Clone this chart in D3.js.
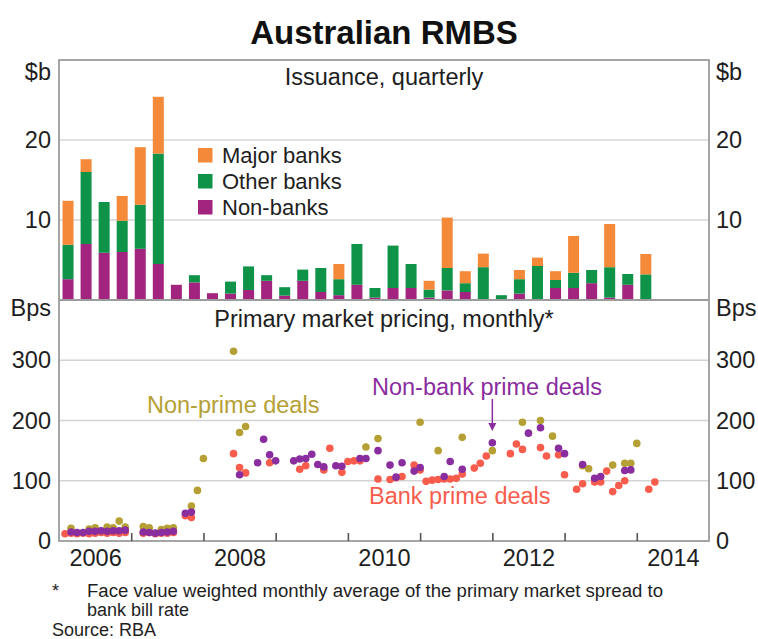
<!DOCTYPE html>
<html><head><meta charset="utf-8">
<script src="https://cdn.jsdelivr.net/npm/d3@7/dist/d3.min.js"></script>
<style>
body{margin:0;background:#fff}
svg{display:block}
text{font-family:"Liberation Sans",Arial,Helvetica,sans-serif;fill:#1e1e1e}
</style>
</head><body>
<svg id="chart" width="758" height="639"></svg>
<script>
// ---------- DATA ----------
const quarterLabels = [
  "2006-Q1","2006-Q2","2006-Q3","2006-Q4","2007-Q1","2007-Q2","2007-Q3","2007-Q4",
  "2008-Q1","2008-Q2","2008-Q3","2008-Q4","2009-Q1","2009-Q2","2009-Q3","2009-Q4",
  "2010-Q1","2010-Q2","2010-Q3","2010-Q4","2011-Q1","2011-Q2","2011-Q3","2011-Q4",
  "2012-Q1","2012-Q2","2012-Q3","2012-Q4","2013-Q1","2013-Q2","2013-Q3","2013-Q4","2014-Q1"];
// Issuance, $b
const nonBanks   = [2.6,7.0,5.9,6.0,6.4,4.5,1.9,2.2,0.85,0.8,1.25,2.4,0.55,2.4,1.0,0.6,1.9,0.3,1.5,1.5,0.3,1.2,1.0,0.1,0,0.8,0.1,1.5,1.5,2.1,0.3,1.9,0];
const otherBanks = [4.3,9.0,6.35,3.9,5.5,13.8,0,0.9,0,1.5,2.95,0.7,1.05,1.4,3.0,2.0,5.1,1.2,5.3,3.0,1.0,2.8,1.1,4.0,0.6,1.8,4.15,1.0,1.9,1.65,3.8,1.35,3.2];
const majorBanks = [5.5,1.6,0,3.1,7.2,7.1,0,0,0,0,0,0,0,0,0,1.9,0,0,0,0,1.1,6.3,1.5,1.7,0,1.15,1.05,1.1,4.6,0,5.4,0,2.55];
const seriesNames = ["Major banks","Other banks","Non-banks"];

// Primary market pricing, bps (monthly, [month, value])
const nonPrimeDeals = [
  ["2006-02",21],["2006-05",20],["2006-06",22],["2006-08",23],["2006-09",22],["2006-10",33],["2006-11",23],
  ["2007-02",24],["2007-03",22],["2007-05",19],["2007-06",21],["2007-07",22],["2007-10",58],["2007-11",84],["2007-12",137],
  ["2008-05",315],["2008-06",180],["2008-07",190],["2010-03",156],["2010-05",170],["2010-12",197],
  ["2011-03",150],["2011-07",172],["2011-12",150],["2012-05",197],["2012-08",200],["2012-10",174],
  ["2013-03",125],["2013-04",120],["2013-08",126],["2013-10",129],["2013-11",129],["2013-12",162]];
const nonBankPrimeDeals = [
  ["2006-02",15],["2006-03",14],["2006-04",14],["2006-05",16],["2006-06",16],["2006-07",17],["2006-08",16],["2006-09",17],["2006-10",17],["2006-11",18],
  ["2007-02",15],["2007-03",14],["2007-04",13],["2007-05",14],["2007-06",15],["2007-07",16],["2007-09",46],["2007-10",48],
  ["2008-06",110],["2008-09",130],["2008-10",169],["2008-11",143],["2008-12",133],
  ["2009-03",133],["2009-04",136],["2009-05",137],["2009-06",144],["2009-07",127],["2009-08",123],["2009-10",125],["2009-11",124],
  ["2010-02",137],["2010-03",137],["2010-05",150],["2010-07",126],["2010-08",106],["2010-09",130],["2010-11",116],["2010-12",122],
  ["2011-04",107],["2011-05",132],["2011-07",119],["2011-12",163],
  ["2012-06",179],["2012-08",188],["2012-11",154],["2012-12",145],
  ["2013-03",127],["2013-05",104],["2013-06",107],["2013-10",117],["2013-11",118]];
const bankPrimeDeals = [
  ["2006-01",12],["2006-02",13],["2006-03",12],["2006-04",13],["2006-05",12],["2006-06",13],["2006-07",14],["2006-08",13],["2006-09",14],["2006-10",13],["2006-11",14],
  ["2007-02",13],["2007-03",14],["2007-04",12],["2007-05",13],["2007-06",13],["2007-07",14],["2007-09",42],["2007-10",39],
  ["2008-05",145],["2008-06",122],["2008-07",113],["2008-11",130],
  ["2009-04",119],["2009-05",125],["2009-08",118],["2009-09",154],["2009-11",114],["2009-12",132],
  ["2010-01",133],["2010-02",133],["2010-05",103],["2010-07",102],["2010-08",105],["2010-09",107],["2010-11",126],["2010-12",118],
  ["2011-01",99],["2011-02",101],["2011-03",102],["2011-04",103],["2011-05",103],["2011-06",104],["2011-07",111],["2011-09",121],["2011-10",129],["2011-11",141],
  ["2012-03",145],["2012-04",161],["2012-05",152],["2012-08",155],["2012-09",141],["2012-11",143],["2012-12",110],
  ["2013-02",86],["2013-03",95],["2013-05",98],["2013-06",98],["2013-07",116],["2013-08",82],["2013-09",92],["2013-10",100],
  ["2014-02",86],["2014-03",98]];

const topTicks = [10,20];
const bottomTicks = [0,100,200,300];
const yearTicks = [2007,2008,2009,2010,2011,2012,2013,2014];
const yearLabels = [2006,2008,2010,2012,2014];

// ---------- LAYOUT / STYLE ----------
const L = 59, R = 709, T = 60, MID = 300, B = 541;
const colors = {"Major banks":"#F5893A","Other banks":"#0E9348","Non-banks":"#A3247E"};
const dotColors = {nonPrime:"#B5A035", nonBank:"#8A2D9E", bank:"#F75C4C"};
const FS = 23.5;

const svg = d3.select("#chart");

const x = d3.scaleLinear().domain([2006, 2015]).range([L, R]);
const yTop = d3.scaleLinear().domain([0, 30]).range([MID, T]);
const yBot = d3.scaleLinear().domain([0, 400]).range([B, MID]);

const qPos = q => { const [yy, qq] = q.split("-Q"); return +yy + (+qq - 0.5) / 4; };
const mPos = m => { const [yy, mm] = m.split("-"); return +yy + (+mm) / 12; };

// title
svg.append("text").attr("x", 384).attr("y", 44).attr("text-anchor", "middle")
  .style("font-size", "33px").style("font-weight", "bold").style("fill", "#111").text("Australian RMBS");

// gridlines
const grid = svg.append("g").attr("stroke", "#d4d4d4").attr("stroke-width", 1.6);
topTicks.forEach(v => grid.append("line").attr("x1", L).attr("x2", R).attr("y1", yTop(v)).attr("y2", yTop(v)));
bottomTicks.filter(v => v > 0).forEach(v => grid.append("line").attr("x1", L).attr("x2", R).attr("y1", yBot(v)).attr("y2", yBot(v)));

// stacked bars
const table = quarterLabels.map((q, i) => ({q, "Non-banks": nonBanks[i], "Other banks": otherBanks[i], "Major banks": majorBanks[i]}));
const stack = d3.stack().keys(["Non-banks", "Other banks", "Major banks"])(table);
const bw = 11;
svg.append("g").selectAll("g").data(stack).join("g").attr("fill", d => colors[d.key])
  .selectAll("rect").data(d => d).join("rect")
  .attr("x", d => x(qPos(d.data.q)) - bw / 2)
  .attr("width", bw)
  .attr("y", d => yTop(d[1]))
  .attr("height", d => Math.max(0, yTop(d[0]) - yTop(d[1])));

// dots
const dots = svg.append("g");
[[bankPrimeDeals, dotColors.bank], [nonPrimeDeals, dotColors.nonPrime], [nonBankPrimeDeals, dotColors.nonBank]].forEach(([data, c]) => {
  dots.append("g").attr("fill", c).selectAll("circle").data(data).join("circle")
    .attr("cx", d => x(mPos(d[0]))).attr("cy", d => yBot(d[1])).attr("r", 3.8);
});

// frame and divider
const frame = svg.append("g").attr("fill", "none").attr("stroke", "#9c9c9c").attr("stroke-width", 1.8);
frame.append("rect").attr("x", L).attr("y", T).attr("width", R - L).attr("height", B - T);
frame.append("line").attr("x1", L).attr("x2", R).attr("y1", MID).attr("y2", MID);

// x axis ticks (inside) and labels
const xTickAxis = svg.append("g").attr("transform", `translate(0,${B})`)
  .call(d3.axisBottom(x).tickValues(yearTicks).tickSize(-8).tickFormat(""));
xTickAxis.select(".domain").remove();
xTickAxis.selectAll("line").attr("stroke", "#555").attr("stroke-width", 1.6);
const xLabelAxis = svg.append("g").attr("transform", `translate(0,${B})`)
  .call(d3.axisBottom(x).tickValues(yearLabels.map(y => y + 0.5)).tickSize(0).tickPadding(8).tickFormat(d => String(Math.floor(d))));
xLabelAxis.select(".domain").remove();

// y axes
function yAxis(scale, ticks, side) {
  const ax = side === "left" ? d3.axisLeft(scale) : d3.axisRight(scale);
  const g = svg.append("g").attr("transform", `translate(${side === "left" ? L : R},0)`)
    .call(ax.tickValues(ticks).tickSize(0).tickPadding(side === "left" ? 8 : 7));
  g.select(".domain").remove();
  return g;
}
yAxis(yTop, topTicks, "left"); yAxis(yTop, topTicks, "right");
yAxis(yBot, bottomTicks, "left"); yAxis(yBot, bottomTicks, "right");
svg.selectAll(".tick text").style("font-size", FS + "px").style("font-family", '"Liberation Sans",Arial,sans-serif').attr("fill", "#1e1e1e");

// unit labels
[["$b", 72], ["Bps", 308]].forEach(([t, yy]) => {
  svg.append("text").attr("x", L - 8).attr("y", yy).attr("dy", "0.35em").attr("text-anchor", "end").style("font-size", FS + "px").text(t);
  svg.append("text").attr("x", R + 7).attr("y", yy).attr("dy", "0.35em").attr("text-anchor", "start").style("font-size", FS + "px").text(t);
});

// panel titles
svg.append("text").attr("x", 384).attr("y", 85).attr("text-anchor", "middle").style("font-size", FS + "px").text("Issuance, quarterly");
svg.append("text").attr("x", 384).attr("y", 327).attr("text-anchor", "middle").style("font-size", FS + "px").text("Primary market pricing, monthly*");

// legend
seriesNames.forEach((n, i) => {
  const yy = 148 + i * 26;
  svg.append("rect").attr("x", 198).attr("y", yy).attr("width", 14.5).attr("height", 14.5).attr("fill", colors[n]);
  svg.append("text").attr("x", 222).attr("y", yy + 15).style("font-size", "22px").text(n);
});

// series labels
svg.append("text").attr("x", 147).attr("y", 413).style("font-size", FS + "px").style("fill", dotColors.nonPrime).text("Non-prime deals");
svg.append("text").attr("x", 372).attr("y", 395).style("font-size", FS + "px").style("fill", dotColors.nonBank).text("Non-bank prime deals");
svg.append("text").attr("x", 369).attr("y", 504).style("font-size", FS + "px").style("fill", dotColors.bank).text("Bank prime deals");
// arrow
const ax0 = x(mPos("2011-12"));
svg.append("line").attr("x1", ax0).attr("x2", ax0).attr("y1", 399).attr("y2", 424).attr("stroke", dotColors.nonBank).attr("stroke-width", 1.5);
svg.append("path").attr("d", `M${ax0 - 4},${423} L${ax0 + 4},${423} L${ax0},${431} Z`).attr("fill", dotColors.nonBank);

// footnotes
const fn = svg.append("g").style("font-family", '"Liberation Sans Narrow","Arial Narrow","Liberation Sans",Arial,sans-serif').style("font-size", "18px");
fn.append("text").attr("x", 52).attr("y", 597).text("*");
fn.append("text").attr("x", 87).attr("y", 597).attr("textLength", 576).attr("lengthAdjust", "spacingAndGlyphs")
  .text("Face value weighted monthly average of the primary market spread to");
fn.append("text").attr("x", 87).attr("y", 616).text("bank bill rate");
fn.append("text").attr("x", 52).attr("y", 636).text("Source: RBA");
</script>
</body></html>
